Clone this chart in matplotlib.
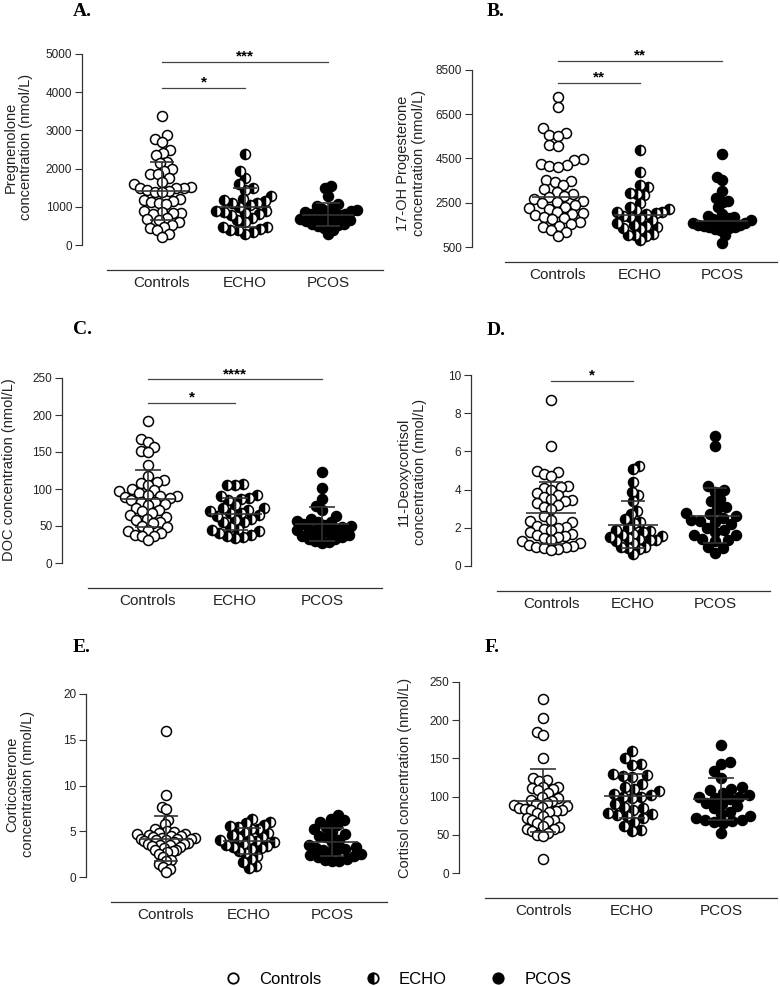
import numpy as np
import matplotlib
matplotlib.use('Agg')
import matplotlib.pyplot as plt
from matplotlib.lines import Line2D

plt.rcParams['font.family'] = ['Liberation Sans', 'DejaVu Sans']

W, H = 780, 986
groups = ['Controls', 'ECHO', 'PCOS']

# A. Pregnenolone (nmol/L)
preg_controls = [3380, 2880, 2780, 2700, 2500, 2420, 2350, 2180, 2150, 1980, 1950, 1870, 1850, 1750, 1650,
                 1600, 1530, 1500, 1500, 1480, 1450, 1420, 1400, 1380, 1200, 1180, 1150, 1120, 1100, 1080,
                 900, 870, 850, 840, 820, 700, 680, 650, 600, 520, 480, 450, 400, 300, 220]
preg_echo = [2380, 1930, 1750, 1600, 1480, 1450, 1280, 1200, 1180, 1150, 1100, 1100, 1050, 1000, 900,
             880, 870, 850, 800, 780, 700, 650, 600, 480, 470, 420, 400, 380, 350, 300]
preg_pcos = [1550, 1480, 1270, 1080, 1020, 1000, 950, 920, 900, 870, 850, 820, 800, 780, 760,
             740, 700, 680, 650, 620, 600, 560, 550, 530, 500, 450, 400, 280]

# B. 17-OH Progesterone (nmol/L)
ohp_controls = [7270, 6820, 5870, 5650, 5570, 5500, 5100, 5050, 4480, 4450, 4250, 4200, 4150, 4100, 3550,
                3500, 3420, 3300, 3100, 3000, 2900, 2800, 2750, 2650, 2600, 2550, 2480, 2400, 2330, 2260,
                2200, 2100, 2050, 2000, 1950, 1850, 1800, 1750, 1650, 1550, 1450, 1400, 1250, 1200, 1000]
ohp_echo = [4900, 3900, 3300, 3200, 2950, 2900, 2850, 2500, 2300, 2200, 2150, 2100, 2100, 2050, 2000,
            1900, 1850, 1800, 1700, 1600, 1500, 1450, 1400, 1350, 1300, 1100, 1050, 1050, 1000, 800]
ohp_pcos = [4700, 3650, 3550, 3050, 2700, 2600, 2550, 2300, 2000, 1900, 1850, 1800, 1750, 1700, 1650,
            1600, 1600, 1550, 1500, 1500, 1450, 1400, 1400, 1350, 1300, 1250, 1050, 700]

# C. DOC (nmol/L)
doc_controls = [192, 167, 163, 157, 152, 150, 132, 118, 112, 110, 108, 105, 100, 98, 97,
                95, 92, 90, 90, 89, 88, 85, 83, 82, 80, 78, 75, 72, 70, 68,
                65, 62, 60, 58, 55, 54, 50, 48, 45, 43, 40, 38, 37, 36, 31]
doc_echo = [107, 106, 105, 92, 91, 88, 87, 85, 78, 75, 74, 72, 70, 68, 67,
            65, 63, 60, 58, 56, 55, 48, 46, 45, 43, 40, 38, 36, 35, 34]
doc_pcos = [123, 101, 86, 77, 72, 64, 60, 57, 56, 55, 53, 52, 50, 48, 46,
            45, 44, 43, 42, 40, 38, 36, 35, 33, 32, 30, 28, 27]

# D. 11-Deoxycortisol (nmol/L)
deoxy_controls = [8.7, 6.3, 5.0, 4.9, 4.8, 4.7, 4.2, 4.15, 4.1, 4.0, 3.8, 3.7, 3.6, 3.5, 3.45,
                  3.4, 3.3, 3.2, 3.1, 3.0, 2.6, 2.4, 2.35, 2.3, 2.1, 2.05, 2.0, 1.95, 1.9, 1.8,
                  1.7, 1.6, 1.55, 1.5, 1.45, 1.35, 1.3, 1.2, 1.1, 1.05, 1.0, 1.0, 0.95, 0.9, 0.85]
deoxy_echo = [5.25, 5.1, 4.4, 3.9, 3.7, 3.4, 2.9, 2.7, 2.45, 2.3, 2.25, 2.0, 1.9, 1.85, 1.8,
              1.7, 1.6, 1.55, 1.5, 1.45, 1.4, 1.35, 1.35, 1.3, 1.2, 1.0, 1.0, 0.95, 0.9, 0.65]
deoxy_pcos = [6.8, 6.3, 4.2, 4.0, 3.9, 3.5, 3.4, 3.1, 3.0, 2.8, 2.7, 2.6, 2.5, 2.4, 2.35,
              2.3, 2.2, 2.0, 1.9, 1.8, 1.6, 1.6, 1.4, 1.35, 1.3, 1.0, 0.95, 0.7]

# E. Corticosterone (nmol/L)
cort_controls = [16.0, 9.0, 7.7, 7.4, 6.2, 5.8, 5.2, 5.0, 4.9, 4.8, 4.7, 4.7, 4.6, 4.5, 4.5,
                 4.4, 4.3, 4.3, 4.2, 4.2, 4.1, 4.0, 4.0, 3.9, 3.8, 3.7, 3.6, 3.6, 3.5, 3.5,
                 3.4, 3.3, 3.2, 3.0, 2.9, 2.8, 2.7, 2.5, 2.2, 1.9, 1.7, 1.4, 1.1, 0.9, 0.5]
cort_echo = [6.3, 6.0, 5.9, 5.7, 5.6, 5.5, 5.3, 5.2, 4.9, 4.8, 4.6, 4.4, 4.3, 4.2, 4.0,
             3.9, 3.8, 3.6, 3.5, 3.4, 3.3, 3.2, 3.1, 2.8, 2.6, 2.3, 2.0, 1.6, 1.2, 1.0]
cort_pcos = [6.8, 6.3, 6.2, 6.0, 5.7, 5.5, 5.3, 4.9, 4.7, 4.5, 4.4, 4.0, 3.8, 3.5, 3.3,
             3.2, 3.1, 3.0, 2.9, 2.7, 2.5, 2.4, 2.3, 2.2, 2.0, 1.9, 1.8, 1.7]

# F. Cortisol (nmol/L)
cortisol_controls = [228, 203, 184, 181, 150, 124, 122, 121, 113, 112, 111, 110, 108, 105, 100,
                     98, 96, 94, 92, 90, 89, 88, 87, 85, 84, 83, 82, 81, 80, 78,
                     75, 72, 70, 70, 68, 65, 62, 60, 58, 57, 55, 53, 50, 49, 18]
cortisol_echo = [160, 150, 143, 141, 130, 128, 127, 126, 117, 113, 110, 107, 104, 102, 100,
                 100, 98, 90, 87, 85, 83, 78, 77, 76, 74, 72, 67, 62, 56, 55]
cortisol_pcos = [168, 145, 143, 133, 125, 112, 110, 108, 105, 102, 100, 100, 98, 97, 92,
                 90, 88, 85, 80, 77, 75, 72, 70, 70, 68, 67, 65, 53]

# significance bars: (group i, group j, height, label)
sig_preg = [(0, 2, 4800, '***'), (0, 1, 4110, '*')]
sig_ohp = [(0, 2, 8920, '**'), (0, 1, 7930, '**')]
sig_doc = [(0, 2, 248, '****'), (0, 1, 216, '*')]
sig_deoxy = [(0, 1, 9.7, '*')]

panels = [
    dict(letter='A.', ylabel='Pregnenolone\nconcentration (nmol/L)',
         data=[preg_controls, preg_echo, preg_pcos], ticks=[0, 1000, 2000, 3000, 4000, 5000],
         center='mean', sig=sig_preg,
         geo=dict(spine=82, xend=383, xline=270, start=107, cats=(162, 328), y0=245, ytop=54,
                  lab=(33, 147), let=(73, 12))),
    dict(letter='B.', ylabel='17-OH Progesterone\nconcentration (nmol/L)',
         data=[ohp_controls, ohp_echo, ohp_pcos], ticks=[500, 2500, 4500, 6500, 8500],
         center='median', sig=sig_ohp,
         geo=dict(spine=472, xend=777, xline=262, start=505, cats=(558, 722), y0=247, ytop=70,
                  lab=(426, 163), let=(487, 12))),
    dict(letter='C.', ylabel='DOC concentration (nmol/L)',
         data=[doc_controls, doc_echo, doc_pcos], ticks=[0, 50, 100, 150, 200, 250],
         center='mean', sig=sig_doc,
         geo=dict(spine=62, xend=382, xline=588, start=88, cats=(148, 322), y0=563, ytop=378,
                  lab=(16, 470), let=(73, 330))),
    dict(letter='D.', ylabel='11-Deoxycortisol\nconcentration (nmol/L)',
         data=[deoxy_controls, deoxy_echo, deoxy_pcos], ticks=[0, 2, 4, 6, 8, 10],
         center='mean', sig=sig_deoxy,
         geo=dict(spine=471, xend=770, xline=591, start=497, cats=(551, 715), y0=566, ytop=375,
                  lab=(427, 472), let=(487, 331))),
    dict(letter='E.', ylabel='Corticosterone\nconcentration (nmol/L)',
         data=[cort_controls, cort_echo, cort_pcos], ticks=[0, 5, 10, 15, 20],
         center='mean', sig=[],
         geo=dict(spine=86, xend=387, xline=902, start=111, cats=(166, 332), y0=877, ytop=694,
                  lab=(35, 784), let=(73, 648))),
    dict(letter='F.', ylabel='Cortisol concentration (nmol/L)',
         data=[cortisol_controls, cortisol_echo, cortisol_pcos], ticks=[0, 50, 100, 150, 200, 250],
         center='mean', sig=[],
         geo=dict(spine=459, xend=777, xline=898, start=485, cats=(543, 721), y0=873, ytop=682,
                  lab=(412, 778), let=(485, 648))),
]

AX_COLOR = '#333333'
MS = 7.2
MEW = 1.1
SWARM_GAP = 9.5    # px between neighbouring centres
SWARM_HALF = 29.0  # px, widest half-width of a group's cloud
styles = [dict(mfc='white'),
          dict(mfc='black', fillstyle='left', markerfacecoloralt='white'),
          dict(mfc='black')]


def swarm_offsets(ypx, diam, half):
    order = np.argsort(ypx)
    placed = []
    xs = np.zeros(len(ypx))
    for i in order:
        y = ypx[i]
        near = [(px, py) for px, py in placed if abs(py - y) < diam]
        cands = [0.0]
        for px, py in near:
            dx = np.sqrt(diam ** 2 - (py - y) ** 2)
            cands += [px - dx, px + dx]
        cands.sort(key=lambda c: (round(abs(c), 3), -c if len(placed) % 2 else c))
        for c in cands:
            if all((c - px) ** 2 + (y - py) ** 2 >= diam ** 2 - 1e-6 for px, py in near):
                xs[i] = c
                break
        placed.append((xs[i], y))
    widest = np.abs(xs).max()
    if widest > half:
        xs = xs * half / widest
    return xs


fig = plt.figure(figsize=(W / 100, H / 100), dpi=100)

for p in panels:
    g = p['geo']
    c0, c2 = g['cats']
    step = (c2 - c0) / 2
    top = g['ytop'] - 40
    ax = fig.add_axes([g['spine'] / W, 1 - g['xline'] / H,
                       (g['xend'] - g['spine']) / W, (g['xline'] - top) / H])
    ax.patch.set_visible(False)
    vmin, vmax = p['ticks'][0], p['ticks'][-1]
    dpp = (vmax - vmin) / (g['y0'] - g['ytop'])
    ax.set_ylim(vmin - (g['xline'] - g['y0']) * dpp, vmax + (g['ytop'] - top) * dpp)
    ax.set_xlim((g['spine'] - c0) / step, (g['xend'] - c0) / step)

    for s in ['top', 'right']:
        ax.spines[s].set_visible(False)
    ax.spines['left'].set_bounds(vmin, vmax)
    ax.spines['bottom'].set_bounds((g['start'] - c0) / step, ax.get_xlim()[1])
    for s in ['left', 'bottom']:
        ax.spines[s].set_color(AX_COLOR)
        ax.spines[s].set_linewidth(0.9)

    ax.set_yticks(p['ticks'])
    ax.set_xticks(range(3))
    ax.set_xticklabels(groups)
    ax.tick_params(axis='y', length=5, width=0.8, pad=2, labelsize=8.5, color=AX_COLOR, labelcolor='#222222')
    ax.tick_params(axis='x', length=0, pad=4, labelsize=11, labelcolor='#222222')

    ax.set_ylabel(p['ylabel'], fontsize=10.5, linespacing=1.15, color='#222222')
    axw = g['xend'] - g['spine']
    axh = g['xline'] - top
    ax.yaxis.set_label_coords((g['lab'][0] - g['spine']) / axw, (g['xline'] - g['lab'][1]) / axh)

    # swarm positions in pixel space
    px_per_x = ax.transData.transform([[1, 0]])[0, 0] - ax.transData.transform([[0, 0]])[0, 0]
    for i, vals in enumerate(p['data']):
        vals = np.asarray(vals, dtype=float)
        ypx = ax.transData.transform(np.column_stack([np.full(len(vals), i), vals]))[:, 1]
        xs = i + swarm_offsets(ypx, SWARM_GAP, SWARM_HALF) / px_per_x
        ax.plot(xs, vals, ls='none', marker='o', ms=MS, mew=MEW, mec='black', zorder=3,
                clip_on=False, **styles[i])
        if p['center'] == 'mean':
            m, sd = vals.mean(), vals.std(ddof=1)
            ax.hlines(m, i - 0.31, i + 0.31, color=AX_COLOR, lw=1.2, zorder=5)
            ax.hlines([m - sd, m + sd], i - 0.15, i + 0.15, color=AX_COLOR, lw=1.2, zorder=5)
            ax.vlines(i, m - sd, m + sd, color=AX_COLOR, lw=1.2, zorder=5)
        else:
            ax.hlines(np.median(vals), i - 0.32, i + 0.32, color=AX_COLOR, lw=1.2, zorder=5)

    for a, b, h, lab in p['sig']:
        ax.plot([a, b], [h, h], color='#444444', lw=0.9, clip_on=False)
        ax.annotate(lab, xy=((a + b) / 2, h), xytext=(0, 1), textcoords='offset points',
                    ha='center', va='baseline', fontsize=11, fontweight='bold', annotation_clip=False)

    fig.text(g['let'][0] / W, 1 - g['let'][1] / H, p['letter'], family='Liberation Serif',
             fontweight='bold', fontsize=14, ha='left', va='center')

handles = [Line2D([], [], ls='none', marker='o', ms=7.5, mew=1.3, mec='black', **st) for st in styles]
fig.legend(handles, groups, loc='center', bbox_to_anchor=(398 / W, 1 - 979 / H), ncol=3,
           frameon=False, fontsize=12, handlelength=1.0, handletextpad=1.06, columnspacing=2.6,
           borderpad=0, borderaxespad=0)

fig.savefig('out.png', dpi=100)
